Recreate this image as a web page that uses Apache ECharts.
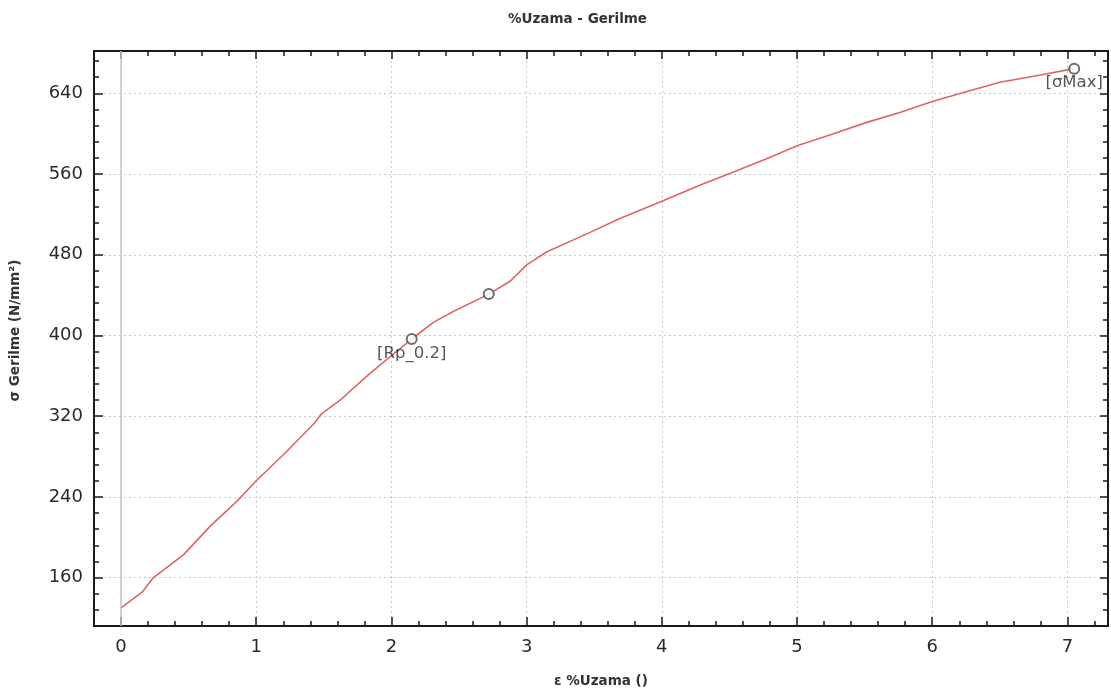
<!DOCTYPE html>
<html>
<head>
<meta charset="utf-8">
<script src="https://cdn.jsdelivr.net/npm/echarts@6/dist/echarts.min.js"></script>
<style>
html, body { margin: 0; padding: 0; background: #fff; }
#chart { width: 1111px; height: 693px; }
</style>
</head>
<body>
<div id="chart"></div>
<script>
// curve: % strain vs stress (N/mm²)
const strain = [0, 0.156, 0.24, 0.465, 0.66, 0.86, 1.0, 1.21, 1.43, 1.48, 1.63, 1.82, 2.0, 2.15, 2.31, 2.46, 2.72, 2.88, 3.0, 3.15, 3.4, 3.69, 4.0, 4.28, 4.53, 4.77, 5.0, 5.27, 5.51, 5.76, 6.0, 6.25, 6.5, 6.75, 7.05]
const stress = [130, 145.5, 160, 183, 211, 236, 256, 283, 313, 322, 337, 360, 380, 396.5, 413, 424, 441, 454, 470, 483, 498, 516, 533, 549, 562, 575, 588, 600, 611, 621, 632, 641.5, 651, 657, 664.5]

// marked points
const pointStrain = [2.15, 2.72, 7.05]
const pointStress = [396.5, 441, 664.5]
const pointNames = ['[Rp_0.2]', '', '[σMax]']

// ticks
const xMajor = [0, 1, 2, 3, 4, 5, 6, 7]
const yMajor = [160, 240, 320, 400, 480, 560, 640]
const zeroLine = [0]

const xMin = -0.2
const xMax = 7.3
const yMin = 112
const yMax = 682

const xMinor = []
for (let i = 1; i <= 36; i++) {
  if (i % 5 !== 0) xMinor.push(Math.round(i * 2) / 10)
}
const yMinor = []
for (let v = 128; v < yMax; v += 16) {
  if (v % 80 !== 0) yMinor.push(v)
}

const font = 'DejaVu Sans, sans-serif'
const ink = '#1a1a1a'
const textColor = '#2a2a2a'

function sideAxis (position, ticks, len, showLine, isX) {
  return {
    type: 'value',
    position: position,
    min: isX ? xMin : yMin,
    max: isX ? xMax : yMax,
    axisLine: { show: showLine, onZero: false, lineStyle: { color: ink, width: 2 } },
    axisTick: { show: true, inside: true, length: len, customValues: ticks, lineStyle: { color: ink, width: 1.5 } },
    axisLabel: { show: false },
    splitLine: { show: false }
  }
}

const xMain = {
  type: 'value',
  position: 'bottom',
  min: xMin,
  max: xMax,
  name: 'ε %Uzama ()',
  nameLocation: 'middle',
  nameGap: 48,
  nameTextStyle: { fontFamily: font, fontSize: 13.5, fontWeight: 'bold', color: '#333' },
  axisLine: { show: true, onZero: false, lineStyle: { color: ink, width: 2 } },
  axisTick: { show: true, inside: true, length: 9, customValues: xMajor, lineStyle: { color: ink, width: 1.5 } },
  axisLabel: { customValues: xMajor, margin: 12, fontSize: 18, fontFamily: font, color: textColor },
  splitLine: { show: true, lineStyle: { color: '#c8c8c8', width: 1, type: [2, 3] } }
}

const yMain = {
  type: 'value',
  position: 'left',
  min: yMin,
  max: yMax,
  name: 'σ Gerilme (N/mm²)',
  nameLocation: 'middle',
  nameGap: 72,
  nameTextStyle: { fontFamily: font, fontSize: 13.5, fontWeight: 'bold', color: '#333', padding: [0, 0, 0, 16] },
  axisLine: { show: true, onZero: false, lineStyle: { color: ink, width: 2 } },
  axisTick: { show: true, inside: true, length: 9, customValues: yMajor, lineStyle: { color: ink, width: 1.5 } },
  axisLabel: { customValues: yMajor, margin: 11, fontSize: 18, fontFamily: font, color: textColor },
  splitLine: { show: true, lineStyle: { color: '#c8c8c8', width: 1, type: [2, 3] } }
}

const myChart = echarts.init(document.getElementById('chart'))
myChart.setOption({
  animation: false,
  title: {
    text: '%Uzama - Gerilme',
    left: 503,
    top: 7,
    textStyle: { fontFamily: font, fontSize: 13.5, fontWeight: 'bold', color: '#333' }
  },
  grid: { left: 92, right: 3, top: 51, bottom: 62, containLabel: false },
  xAxis: [
    xMain,
    sideAxis('bottom', xMinor, 5, false, true),
    sideAxis('top', xMajor, 8, true, true),
    sideAxis('top', xMinor, 5, false, true)
  ],
  yAxis: [
    yMain,
    sideAxis('left', yMinor, 5, false, false),
    sideAxis('right', yMajor, 8, true, false),
    sideAxis('right', yMinor, 5, false, false)
  ],
  series: [
    {
      type: 'line',
      xAxisIndex: 0,
      yAxisIndex: 0,
      data: strain.map((x, i) => [x, stress[i]]),
      showSymbol: false,
      smooth: false,
      lineStyle: { color: '#e06464', width: 1.6 },
      markLine: {
        silent: true,
        symbol: ['none', 'none'],
        label: { show: false },
        lineStyle: { color: '#c4c4c4', type: 'solid', width: 1.5 },
        data: zeroLine.map(v => ({ xAxis: v }))
      },
      z: 3
    },
    {
      type: 'scatter',
      xAxisIndex: 0,
      yAxisIndex: 0,
      data: pointStrain.map((x, i) => ({ value: [x, pointStress[i]], name: pointNames[i] })),
      symbol: 'emptyCircle',
      symbolSize: 10,
      itemStyle: { color: '#4a4a4a', borderWidth: 1.3 },
      label: {
        show: true,
        position: 'bottom',
        distance: 0,
        formatter: p => p.name,
        fontFamily: font,
        fontSize: 16.5,
        color: textColor
      },
      z: 4
    }
  ]
})
</script>
</body>
</html>
